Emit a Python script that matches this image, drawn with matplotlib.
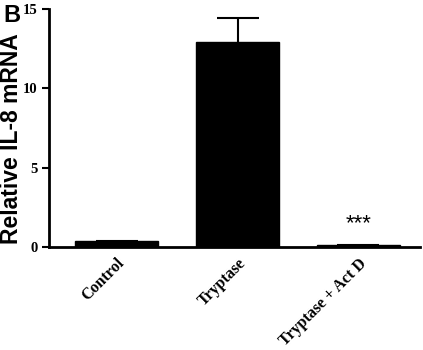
import numpy as np
import matplotlib
matplotlib.use("Agg")
from matplotlib import pyplot as plt
from matplotlib.transforms import ScaledTranslation

groups = ["Control", "Tryptase", "Tryptase + Act D"]
means = [0.38, 12.9, 0.15]
errs = [0.0, 1.5, 0.0]
y_ticks = [0, 5, 10, 15]

fig = plt.figure(figsize=(4.23, 3.5), dpi=100)
ax = fig.add_axes([0.116, 0.294, 0.877, 0.681])

x = np.arange(len(groups))
ax.bar(x, means, width=0.686, color="black", edgecolor="black", zorder=3)
# only the upper half of the error bar is visible
eb = ax.errorbar(x, means, yerr=[np.zeros(len(errs)), errs], fmt="none",
                 ecolor="black", elinewidth=1.5, capsize=15, capthick=1.5, zorder=2)
eb[1][0].set_visible(False)

ax.text(2, 1.5, "***", ha="center", va="center", fontsize=16,
        family="Liberation Sans")

ax.set_xlim(-0.56, 2.51)
ax.set_ylim(0, 15)
ax.set_yticks(y_ticks)
ax.set_yticklabels([str(t) for t in y_ticks], family="Liberation Serif",
                   fontweight="bold", fontsize=10.5)
ax.set_xticks(x)
ax.set_xticklabels(groups, rotation=45, ha="right", rotation_mode="anchor",
                   family="Liberation Serif", fontweight="bold", fontsize=11.5)
shift = ScaledTranslation(-3 / 72, 0, fig.dpi_scale_trans)
for lbl in ax.get_xticklabels():
    lbl.set_transform(lbl.get_transform() + shift)
ax.tick_params(axis="x", length=0, pad=6)
ax.tick_params(axis="y", length=5, width=1.5, pad=3.5)

ax.spines["top"].set_visible(False)
ax.spines["right"].set_visible(False)
ax.spines["left"].set_linewidth(2)
ax.spines["bottom"].set_linewidth(2)

ax.set_ylabel("Relative IL-8 mRNA", family="Liberation Sans",
              fontweight="bold", fontsize=16.5)
ax.yaxis.set_label_coords(-0.071, 0.455)
fig.text(0.007, 0.955, "B", family="Liberation Sans", fontweight="bold",
         fontsize=17, ha="left", va="center")

fig.savefig("out.png", dpi=100)
